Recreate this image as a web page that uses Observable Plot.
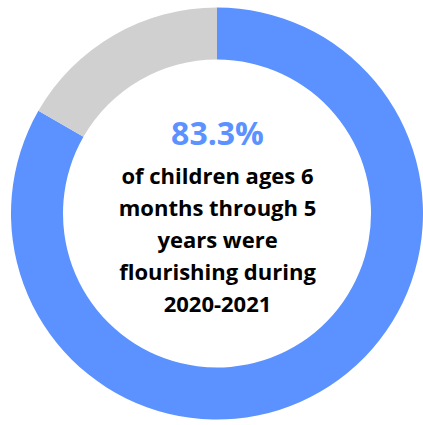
<!DOCTYPE html>
<html>
<head>
<meta charset="utf-8">
<script src="https://cdn.jsdelivr.net/npm/d3@7"></script>
<script src="https://cdn.jsdelivr.net/npm/@observablehq/plot@0.6"></script>
<style>
  html, body { margin: 0; padding: 0; background: #ffffff; }
  #chart { width: 423px; height: 425px; }
</style>
</head>
<body>
<div id="chart"></div>
<script>
// ---- data ----
const segments = ["Flourishing", "Not flourishing"];
const shares = [83.3, 16.7];
const segmentColors = ["#5B92FF", "#D0D0D0"];
const headline = "83.3%";
const captionLines = [
  "of children ages 6",
  "months through 5",
  "years were",
  "flourishing during",
  "2020-2021"
];

const rows = segments.map((s, i) => ({label: s, value: shares[i]}));

// layout (pixels)
const W = 423, H = 425, CX = 217, CY = 213.5, R = 206, innerRatio = 154 / 206;

function donut(index, scales) {
  const cx = scales.x(0), cy = scales.y(0);
  const outer = scales.x(1) - cx;
  const inner = outer * innerRatio;
  const arcs = d3.pie().sort(null).value(d => d.value)(rows);
  const arc = d3.arc().innerRadius(inner).outerRadius(outer);
  const g = d3.create("svg:g").attr("transform", `translate(${cx},${cy})`);
  g.selectAll("path")
    .data(arcs)
    .join("path")
    .attr("d", arc)
    .attr("fill", d => segmentColors[segments.indexOf(d.data.label)]);
  return g.node();
}

const chart = Plot.plot({
  width: W,
  height: H,
  margin: 0,
  x: {domain: [-CX / R, (W - CX) / R], axis: null},
  y: {domain: [-(H - CY) / R, CY / R], axis: null},
  style: {fontFamily: "'Open Sans', sans-serif", background: "#ffffff"},
  marks: [
    donut,
    Plot.text([headline], {
      x: () => 0, y: () => (CY - 134.5) / R,
      text: d => d,
      fontSize: 32, fontWeight: 700, fill: "#5B92FF"
    }),
    Plot.text([captionLines.join("\n")], {
      x: () => 0, y: () => (CY - 237) / R,
      text: d => d,
      fontSize: 22, fontWeight: 700, fill: "#000000",
      lineHeight: 1.45
    })
  ]
});
document.getElementById("chart").appendChild(chart);
</script>
</body>
</html>
